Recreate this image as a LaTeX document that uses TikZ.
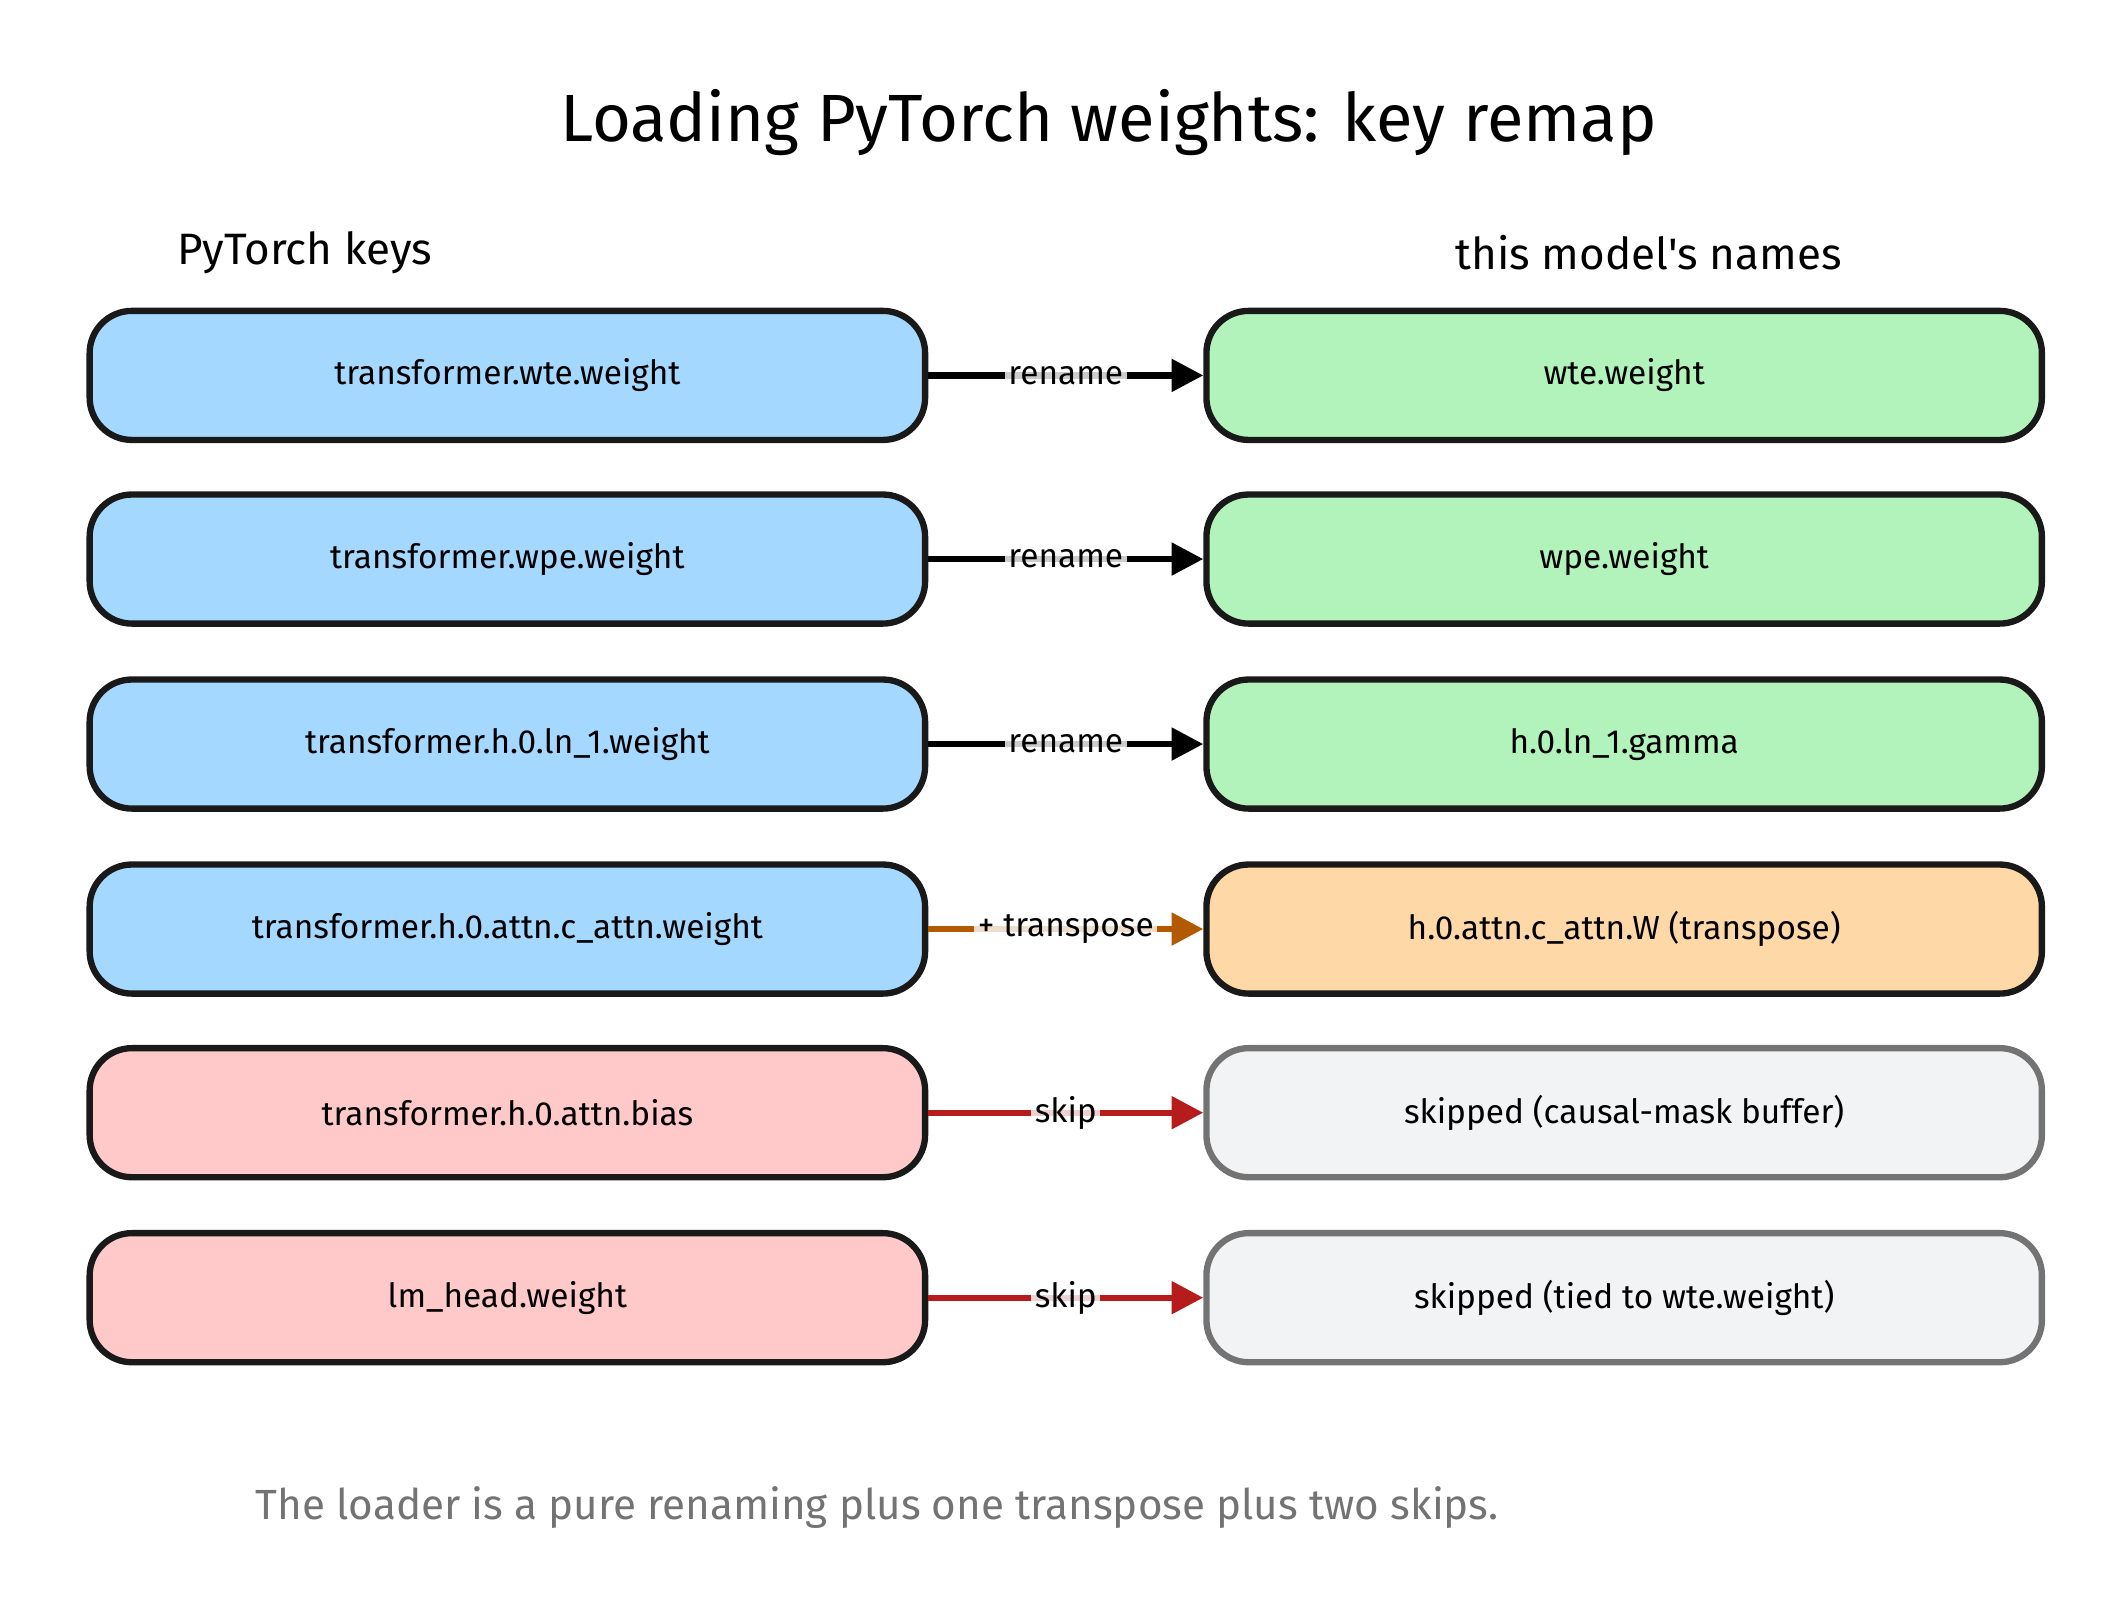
\documentclass[tikz,border=0pt]{standalone}
\usepackage{fontspec}
\setmainfont{Fira Sans}
\usetikzlibrary{positioning, arrows.meta}
\definecolor{keyblue}{HTML}{A5D8FF}
\definecolor{namegreen}{HTML}{B2F2BB}
\definecolor{tposeorange}{HTML}{FFD8A8}
\definecolor{skipred}{HTML}{FFC9C9}
\definecolor{skipgray}{HTML}{F1F3F5}
\definecolor{arrowred}{HTML}{B71C1C}
\definecolor{arrowbrown}{HTML}{B35900}
\tikzset{
  box/.style={draw=black!90, line width=1.8pt, rounded corners=12pt, minimum width=8.35cm, minimum height=1.29cm, font=\fontsize{9.5}{11}\selectfont},
  grey box/.style={box, draw=black!55, fill=skipgray},
  link/.style={line width=1.8pt, -{Triangle[length=9pt,width=9pt]}},
  tag/.style={fill=white, fill opacity=0.8, text=black, text opacity=1, inner sep=1pt, font=\fontsize{9.5}{11}\selectfont}
}
\begin{document}
\begin{tikzpicture}[x=0.0136cm, y=-0.0136cm]
  \useasboundingbox (0,0) rectangle (1560,1192.6);
  \node [font=\fontsize{19}{23}\selectfont] (title) at (815,90) {Loading PyTorch weights: key remap};
  \node [font=\fontsize{12.5}{15}\selectfont] (lhead) at (224,186) {PyTorch keys};
  \node [font=\fontsize{12.5}{15}\selectfont] (rhead) at (1212,186) {this model\textquotesingle s names};

  % left column
  \node [box, fill=keyblue] (K1) at (373,276) {transformer.wte.weight};
  \node [box, fill=keyblue] (K2) at (373,411) {transformer.wpe.weight};
  \node [box, fill=keyblue] (K3) at (373,547) {transformer.h.0.ln\_1.weight};
  \node [box, fill=keyblue] (K4) at (373,683) {transformer.h.0.attn.c\_attn.weight};
  \node [box, fill=skipred] (K5) at (373,818) {transformer.h.0.attn.bias};
  \node [box, fill=skipred] (K6) at (373,954) {lm\_head.weight};

  % right column
  \node [box, fill=namegreen] (N1) at (1194,276) {wte.weight};
  \node [box, fill=namegreen] (N2) at (1194,411) {wpe.weight};
  \node [box, fill=namegreen] (N3) at (1194,547) {h.0.ln\_1.gamma};
  \node [box, fill=tposeorange] (N4) at (1194,683) {h.0.attn.c\_attn.W (transpose)};
  \node [grey box] (N5) at (1194,818) {skipped (causal-mask buffer)};
  \node [grey box] (N6) at (1194,954) {skipped (tied to wte.weight)};

  \draw [link] (K1) -- node [tag] {rename} (N1);
  \draw [link] (K2) -- node [tag] {rename} (N2);
  \draw [link] (K3) -- node [tag] {rename} (N3);
  \draw [link, arrowbrown] (K4) -- node [tag] {+ transpose} (N4);
  \draw [link, arrowred] (K5) -- node [tag] {skip} (N5);
  \draw [link, arrowred] (K6) -- node [tag] {skip} (N6);

  \node [text=black!55, font=\fontsize{12}{14}\selectfont] (note) at (645,1108) {The loader is a pure renaming plus one transpose plus two skips.};
\end{tikzpicture}
\end{document}
